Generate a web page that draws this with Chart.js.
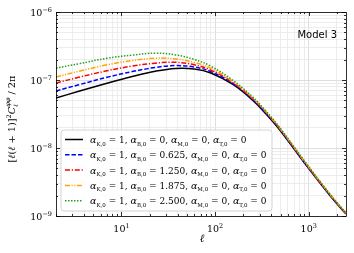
<!DOCTYPE html>
<html>
<head>
<meta charset="utf-8">
<script src="https://cdn.jsdelivr.net/npm/chart.js@4.4.0/dist/chart.umd.min.js"></script>
<style>
  html, body { margin: 0; padding: 0; background: #fff; }
</style>
</head>
<body>
<canvas id="myChart" width="354" height="253"></canvas>
<script>
// multipoles
const ells = [2, 3.5, 7, 13, 23, 38, 60, 90, 155, 250, 350, 500, 900, 1700, 2500];
// [l(l+1)]^2 C_l^phiphi / 2pi, one array per alpha_B,0
const clB0000 = [5.43e-8, 6.82e-8, 8.94e-8, 1.122e-7, 1.347e-7, 1.48e-7, 1.45e-7, 1.267e-7, 8.59e-8, 5.08e-8, 3.16e-8, 1.78e-8, 6.02e-9, 1.97e-9, 1.07e-9];
const clB0625 = [6.89e-8, 8.50e-8, 1.096e-7, 1.329e-7, 1.532e-7, 1.628e-7, 1.55e-7, 1.33e-7, 8.88e-8, 5.22e-8, 3.24e-8, 1.815e-8, 6.12e-9, 2.00e-9, 1.08e-9];
const clB1250 = [9.03e-8, 1.096e-7, 1.366e-7, 1.60e-7, 1.77e-7, 1.82e-7, 1.673e-7, 1.40e-7, 9.16e-8, 5.36e-8, 3.32e-8, 1.85e-8, 6.22e-9, 2.02e-9, 1.09e-9];
const clB1875 = [1.107e-7, 1.342e-7, 1.673e-7, 1.93e-7, 2.09e-7, 2.04e-7, 1.81e-7, 1.49e-7, 9.47e-8, 5.51e-8, 3.40e-8, 1.89e-8, 6.33e-9, 2.05e-9, 1.10e-9];
const clB2500 = [1.50e-7, 1.73e-7, 2.09e-7, 2.32e-7, 2.48e-7, 2.34e-7, 2.00e-7, 1.60e-7, 9.87e-8, 5.68e-8, 3.48e-8, 1.93e-8, 6.44e-9, 2.08e-9, 1.11e-9];
const alphaB = ['0', '0.625', '1.250', '1.875', '2.500'];

// tick labels (major) : base 10, exponent
const xMajor = [10, 100, 1000];
const xMajorExp = ['1', '2', '3'];
const yMajor = [1e-9, 1e-8, 1e-7, 1e-6];
const yMajorExp = ['\u22129', '\u22128', '\u22127', '\u22126'];

const serif = '"DejaVu Serif", serif';

function minorTicks(lo, hi) {
    const out = [];
    for (let e = Math.floor(Math.log10(lo)); e <= Math.ceil(Math.log10(hi)); e++) {
        for (let k = 1; k < 10; k++) {
            const v = k * Math.pow(10, e);
            if (v >= lo * 0.999 && v <= hi * 1.001) out.push(v);
        }
    }
    return out;
}
function isMajor(v) {
    const l = Math.log10(v);
    return Math.abs(l - Math.round(l)) < 1e-6;
}

// draw a run of text pieces: [text, size, style, dy]
function runText(ctx, x, y, parts, draw) {
    parts.forEach(p => {
        ctx.font = (p[2] || 'normal') + ' ' + p[1] + 'px ' + serif;
        if (draw) ctx.fillText(p[0], x, y + (p[3] || 0));
        x += ctx.measureText(p[0]).width;
    });
    return x;
}

function legendParts(b) {
    const names = ['K', 'B', 'M', 'T'];
    const vals = ['1', b, '0', '0'];
    const parts = [];
    names.forEach((n, i) => {
        parts.push(['\u03b1', 9.5, 'italic', 0]);
        parts.push([n + ',0', 5.5, 'normal', 2.5]);
        parts.push([' = ' + vals[i] + (i < 3 ? ', ' : ''), 9, 'normal', 0]);
    });
    return parts;
}

const series = [
    { label: alphaB[0], data: clB0000, color: '#000000', dash: [] },
    { label: alphaB[1], data: clB0625, color: '#0000ff', dash: [4.5, 2] },
    { label: alphaB[2], data: clB1250, color: '#ff0000', dash: [5, 1.8, 1.2, 1.8] },
    { label: alphaB[3], data: clB1875, color: '#ffa500', dash: [5, 1.5, 1.2, 1.5, 1.2, 1.5] },
    { label: alphaB[4], data: clB2500, color: '#22a022', dash: [1.5, 1.5] }
];

const decorPlugin = {
    id: 'decor',
    afterDraw(chart) {
        const ctx = chart.ctx;
        const a = chart.chartArea;
        const xs = chart.scales.x, ys = chart.scales.y;
        ctx.save();
        ctx.strokeStyle = '#000';
        ctx.lineWidth = 0.8;
        // inward ticks on all four sides
        ctx.beginPath();
        xs.ticks.forEach(t => {
            const px = Math.round(xs.getPixelForValue(t.value)) + 0.5;
            const len = isMajor(t.value) ? 4 : 2;
            ctx.moveTo(px, a.bottom); ctx.lineTo(px, a.bottom - len);
            ctx.moveTo(px, a.top); ctx.lineTo(px, a.top + len);
        });
        ys.ticks.forEach(t => {
            const py = Math.round(ys.getPixelForValue(t.value)) + 0.5;
            const len = isMajor(t.value) ? 4 : 2;
            ctx.moveTo(a.left, py); ctx.lineTo(a.left + len, py);
            ctx.moveTo(a.right, py); ctx.lineTo(a.right - len, py);
        });
        ctx.stroke();
        ctx.strokeRect(Math.round(a.left) + 0.5, Math.round(a.top) + 0.5,
            Math.round(a.right - a.left), Math.round(a.bottom - a.top));

        // tick labels
        ctx.fillStyle = '#000';
        ctx.textBaseline = 'alphabetic';
        xMajor.forEach((v, i) => {
            const parts = [['10', 9.5, 'normal', 0], [xMajorExp[i], 6.5, 'normal', -4]];
            const w = runText(ctx, 0, 0, parts, false);
            const px = xs.getPixelForValue(v);
            runText(ctx, px - w / 2, a.bottom + 16, parts, true);
        });
        yMajor.forEach((v, i) => {
            const parts = [['10', 9.5, 'normal', 0], [yMajorExp[i], 6.5, 'normal', -4]];
            const w = runText(ctx, 0, 0, parts, false);
            const py = ys.getPixelForValue(v);
            runText(ctx, a.left - 4 - w, py + 3.5, parts, true);
        });

        // x title
        ctx.font = 'italic 11px ' + serif;
        ctx.textAlign = 'center';
        ctx.fillText('\u2113', (a.left + a.right) / 2 + 1, a.bottom + 26);
        ctx.textAlign = 'left';

        // y title, rotated
        const fs = 9.8;
        const yParts1 = [['[', fs, 'normal', 0], ['\u2113', fs, 'italic', 0], ['(', fs, 'normal', 0],
            ['\u2113', fs, 'italic', 0], [' + 1)]', fs, 'normal', 0], ['2', 6.5, 'normal', -4.5],
            ['C', fs, 'italic', 0]];
        const yParts2 = [[' / 2\u03c0', fs, 'normal', 0]];
        const w1 = runText(ctx, 0, 0, yParts1, false);
        ctx.font = 'italic 6.5px ' + serif;
        const wsup = ctx.measureText('\u03c6\u03c6').width;
        const w2 = runText(ctx, 0, 0, yParts2, false);
        const total = w1 + wsup + w2;
        ctx.save();
        ctx.translate(15, 119);
        ctx.rotate(-Math.PI / 2);
        const x0 = runText(ctx, -total / 2, 0, yParts1, true);
        ctx.font = 'italic 6.5px ' + serif;
        ctx.fillText('\u2113', x0, 2.5);
        ctx.fillText('\u03c6\u03c6', x0, -5);
        runText(ctx, x0 + wsup, 0, yParts2, true);
        ctx.restore();

        // model label
        ctx.font = '10px "DejaVu Sans", sans-serif';
        ctx.textAlign = 'right';
        ctx.fillText('Model 3', 337, 38);
        ctx.textAlign = 'left';

        // legend box
        const bx = 61, by = 130, bw = 211, bh = 81, r = 3;
        ctx.beginPath();
        ctx.moveTo(bx + r, by);
        ctx.arcTo(bx + bw, by, bx + bw, by + bh, r);
        ctx.arcTo(bx + bw, by + bh, bx, by + bh, r);
        ctx.arcTo(bx, by + bh, bx, by, r);
        ctx.arcTo(bx, by, bx + bw, by, r);
        ctx.closePath();
        ctx.fillStyle = 'rgba(255,255,255,0.85)';
        ctx.fill();
        ctx.strokeStyle = '#d4d4d4';
        ctx.lineWidth = 1;
        ctx.stroke();
        series.forEach((s, i) => {
            const ry = by + 9.5 + i * 15.3;
            ctx.strokeStyle = s.color;
            ctx.lineWidth = 1.5;
            ctx.setLineDash(s.dash);
            ctx.beginPath();
            ctx.moveTo(65, ry); ctx.lineTo(83, ry);
            ctx.stroke();
            ctx.setLineDash([]);
            ctx.fillStyle = '#000';
            runText(ctx, 90, ry + 3.5, legendParts(s.label), true);
        });
        ctx.restore();
    }
};

const ctx = document.querySelector('#myChart').getContext('2d');
const myChart = new Chart(ctx, {
    type: 'line',
    data: {
        datasets: series.map(s => ({
            label: s.label,
            data: ells.map((l, i) => ({ x: l, y: s.data[i] })),
            borderColor: s.color,
            borderDash: s.dash,
            borderWidth: 1.5,
            pointRadius: 0,
            fill: false,
            tension: 0.4
        })).reverse()
    },
    options: {
        responsive: false,
        animation: false,
        devicePixelRatio: 1,
        layout: { padding: { left: 0, top: 12, right: 8, bottom: 0 } },
        plugins: { legend: { display: false }, tooltip: { enabled: false } },
        scales: {
            x: {
                type: 'logarithmic',
                min: 2,
                max: 2500,
                afterBuildTicks: s => { s.ticks = minorTicks(2, 2500).map(v => ({ value: v })); },
                afterFit: s => { s.height = 37; },
                ticks: { display: false, autoSkip: false },
                border: { display: false },
                grid: {
                    drawTicks: false,
                    color: c => isMajor(c.tick.value) ? '#d6d6d6' : '#e9e9e9',
                    lineWidth: 0.8
                }
            },
            y: {
                type: 'logarithmic',
                min: 1e-9,
                max: 1e-6,
                afterBuildTicks: s => { s.ticks = minorTicks(1e-9, 1e-6).map(v => ({ value: v })); },
                afterFit: s => { s.width = 56; },
                ticks: { display: false, autoSkip: false },
                border: { display: false },
                grid: {
                    drawTicks: false,
                    color: c => isMajor(c.tick.value) ? '#d6d6d6' : '#e9e9e9',
                    lineWidth: 0.8
                }
            }
        }
    },
    plugins: [decorPlugin]
});
</script>
</body>
</html>
